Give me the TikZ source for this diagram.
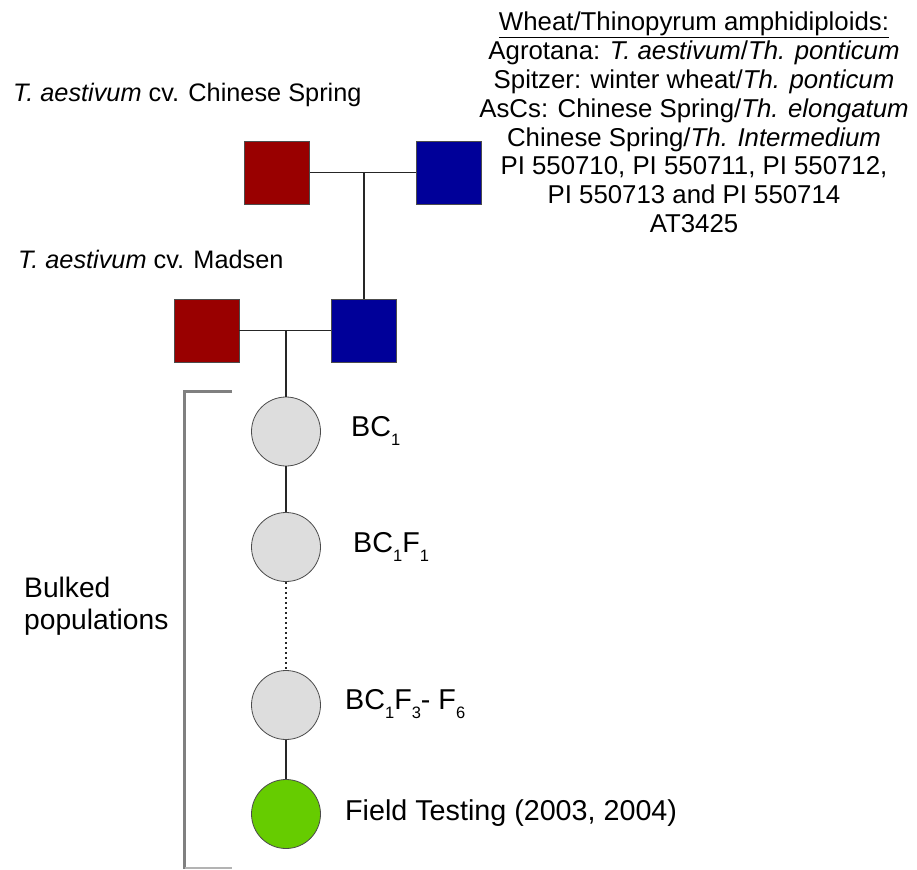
\documentclass[tikz,border=0pt]{standalone}
\usepackage{fontspec}
\setmainfont{Liberation Sans}
\definecolor{sqred}{HTML}{990000}
\definecolor{sqblue}{HTML}{000099}
\definecolor{cgray}{HTML}{DDDDDD}
\definecolor{cgreen}{HTML}{66CC00}
\definecolor{brgray}{HTML}{808080}
\newcommand{\lsub}[1]{\raisebox{-0.34em}{\fontsize{16.5}{16.5}\selectfont #1}}
\begin{document}
\begin{tikzpicture}[x=1pt,y=-1pt,
  sq/.style={rectangle,draw=black!70,line width=0.8pt,minimum width=65pt,minimum height=63pt,inner sep=0pt},
  gen/.style={circle,draw=black!70,line width=0.8pt,minimum size=69pt,inner sep=0pt,fill=cgray},
  lnk/.style={line width=1.4pt,black!85},
  lab/.style={anchor=west,inner sep=0pt,font=\fontsize{28.7}{32}\selectfont},
  top/.style={anchor=west,inner sep=0pt,font=\fontsize{25.3}{28}\selectfont}]
\useasboundingbox (0,0) rectangle (917,869);
% squares
\node[sq,fill=sqred]  (r1) at (277,172.5) {};
\node[sq,fill=sqblue] (b1) at (449,172.5) {};
\node[sq,fill=sqred]  (r2) at (206.5,330.5) {};
\node[sq,fill=sqblue] (b2) at (364,330.5) {};
% circles
\node[gen] (c1) at (286,431.5) {};
\node[gen] (c2) at (286,547) {};
\node[gen] (c3) at (286,705) {};
\node[gen,fill=cgreen] (c4) at (286,814) {};
% connectors
\coordinate (j1) at (364,172.5);
\coordinate (j2) at (286,330.5);
\draw[lnk] (r1.east) -- (b1.west);
\draw[lnk] (j1) -- (b2.north);
\draw[lnk] (r2.east) -- (b2.west);
\draw[lnk] (j2) -- (c1.north);
\draw[lnk] (c1.south) -- (c2.north);
\draw[line width=1.4pt,black!85,dash pattern=on 2.5pt off 2.5pt] (c2.south) -- (c3.north);
\draw[lnk] (c3.south) -- (c4.north);
% bracket
\coordinate (bt) at (232,391);
\coordinate (bb) at (232,868);
\draw[brgray,line width=3pt] (bt) -| (184.5,869);
\draw[brgray!60,line width=1.5pt] (184.5,868) -- (bb);
% labels
\node[top] (lcs) at (13,95) {\textit{T. aestivum} cv. Chinese Spring};
\node[top] (lmd) at (18,259) {\textit{T. aestivum} cv. Madsen};
\node[lab] (lc1) at (351,431) {BC\lsub{1}};
\node[lab] (lc2) at (353,547) {BC\lsub{1}F\lsub{1}};
\node[lab] (lc3) at (345,704) {BC\lsub{1}F\lsub{3}- F\lsub{6}};
\node[lab] (lc4) at (345,813) {Field Testing (2003, 2004)};
\node[anchor=north west,inner sep=0pt,align=left,font=\fontsize{28.2}{32}\selectfont] (bulk) at (24,577) {Bulked\\populations};
\node[anchor=north,inner sep=0pt,align=center,font=\fontsize{25.8}{28.8}\selectfont] (amph) at (694,12) {%
\underline{Wheat/Thinopyrum amphidiploids:}\\
Agrotana: \textit{T. aestivum}/\textit{Th. ponticum}\\
Spitzer: winter wheat/\textit{Th. ponticum}\\
AsCs: Chinese Spring/\textit{Th. elongatum}\\
Chinese Spring/\textit{Th. Intermedium}\\
PI 550710, PI 550711, PI 550712,\\
PI 550713 and PI 550714\\
AT3425};
\end{tikzpicture}
\end{document}
